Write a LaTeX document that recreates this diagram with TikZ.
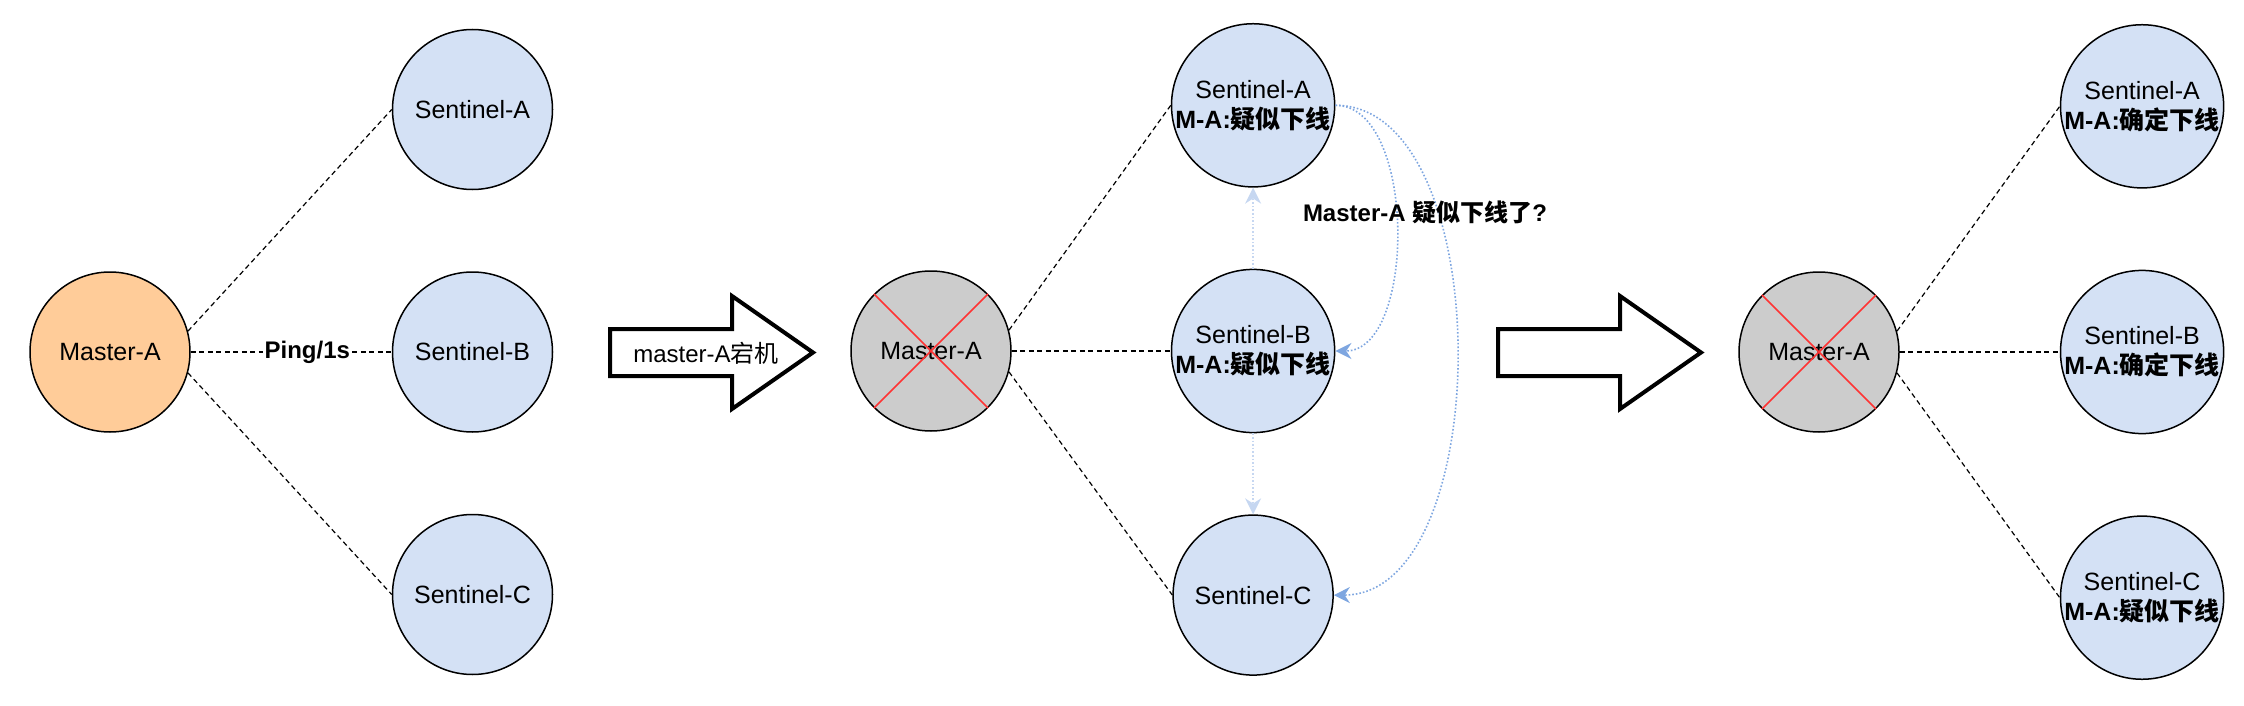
\documentclass[tikz,border=0pt,12pt]{standalone}
\usepackage{fontspec}
\setmainfont{Liberation Sans}
\newfontfamily\cjk{Noto Sans CJK SC}
\newcommand{\zh}[1]{{\cjk #1}}
\usetikzlibrary{positioning,arrows.meta}
\definecolor{masterorange}{HTML}{FFCC99}
\definecolor{sentinelblue}{HTML}{D4E1F5}
\definecolor{downgray}{HTML}{CCCCCC}
\definecolor{crossred}{HTML}{FF3333}
\definecolor{askblue}{HTML}{7EA6E0}
\definecolor{paleblue}{HTML}{C6D7F1}
\tikzset{
circ/.style={circle, draw, line width=0.75pt, minimum size=80pt, inner sep=0pt, align=center, font=\fontsize{12.5pt}{15pt}\selectfont},
master/.style={circ, fill=masterorange},
sentinel/.style={circ, fill=sentinelblue},
down/.style={circ, fill=downgray},
link/.style={line width=0.6pt, dash pattern=on 2.5pt off 1.75pt},
cross/.style={crossred, line width=0.75pt},
fatarrow/.style={line width=2pt, fill=white},
}

\begin{document}
\begin{tikzpicture}
    [x=0.5pt, y=-0.5pt,
    ask/.style={askblue, line width=0.8pt, dash pattern=on 0.8pt off 1pt, -{Stealth[length=8pt,width=8pt]}},
    pale/.style={paleblue, line width=0.8pt, dash pattern=on 0.8pt off 1pt, -{Stealth[length=8pt,width=8pt]}}
    ]

    \useasboundingbox (0,0) rectangle (2244,706);

    \node [master] (master1) at (110,352) {Master-A};
    \node [sentinel] (senB1) [right=100.5pt of master1] {Sentinel-B};
    \node [sentinel] (senA1) [above=40.5pt of senB1] {Sentinel-A};
    \node [sentinel] (senC1) [below=40.5pt of senB1] {Sentinel-C};

    \draw[link] (master1.15) -- (senA1.west);
    \draw[link] (master1.east) -- node[pos=0.58, fill=white, inner sep=1pt, font=\bfseries] (ping) {Ping/1s} (senB1.west);
    \draw[link] (master1.-15) -- (senC1.west);

    \draw[fatarrow] (610,329) -- (732,329) -- (732,296) -- (813,352.5) -- (732,409) -- (732,376) -- (610,376) -- cycle;
    \node (crash) at (706,353) {master-A\zh{宕机}};

    \node [down] (master2) at (931,351) {Master-A};
    \node [sentinel] (senB2) [right=79.5pt of master2] {Sentinel-B\\\textbf{M-A:\zh{疑似下线}}};
    \node [sentinel] (senA2) [above=40.5pt of senB2] {Sentinel-A\\\textbf{M-A:\zh{疑似下线}}};
    \node [sentinel] (senC2) [below=40.5pt of senB2] {Sentinel-C};

    \draw[cross] (master2.135) -- (master2.-45);
    \draw[cross] (master2.45) -- (master2.-135);

    \draw[link] (master2.15) -- (senA2.west);
    \draw[link, line width=0.9pt] (master2.east) -- (senB2.west);
    \draw[link] (master2.-15) -- (senC2.west);

    \draw[pale] (senB2.north) -- (senA2.south);
    \draw[pale] (senB2.south) -- (senC2.north);
    \draw[ask] (senA2.east) to[out=0, in=0, looseness=0.85] (senB2.east);
    \draw[ask] (senA2.east) to[out=0, in=0, looseness=0.85] (senC2.east);

    \node [font=\bfseries] (doubt) at (1425,212) {Master-A \zh{疑似下线了}?};

    \draw[fatarrow] (1498,329) -- (1620,329) -- (1620,296) -- (1701,352.5) -- (1620,409) -- (1620,376) -- (1498,376) -- cycle;

    \node [down] (master3) at (1819,352) {Master-A};
    \node [sentinel] (senB3) [right=80pt of master3] {Sentinel-B\\\textbf{M-A:\zh{确定下线}}};
    \node [sentinel] (senA3) [above=40.5pt of senB3] {Sentinel-A\\\textbf{M-A:\zh{确定下线}}};
    \node [sentinel] (senC3) [below=40.5pt of senB3] {Sentinel-C\\\textbf{M-A:\zh{疑似下线}}};

    \draw[cross] (master3.135) -- (master3.-45);
    \draw[cross] (master3.45) -- (master3.-135);

    \draw[link] (master3.15) -- (senA3.west);
    \draw[link] (master3.east) -- (senB3.west);
    \draw[link] (master3.-15) -- (senC3.west);

\end{tikzpicture}
\end{document}
